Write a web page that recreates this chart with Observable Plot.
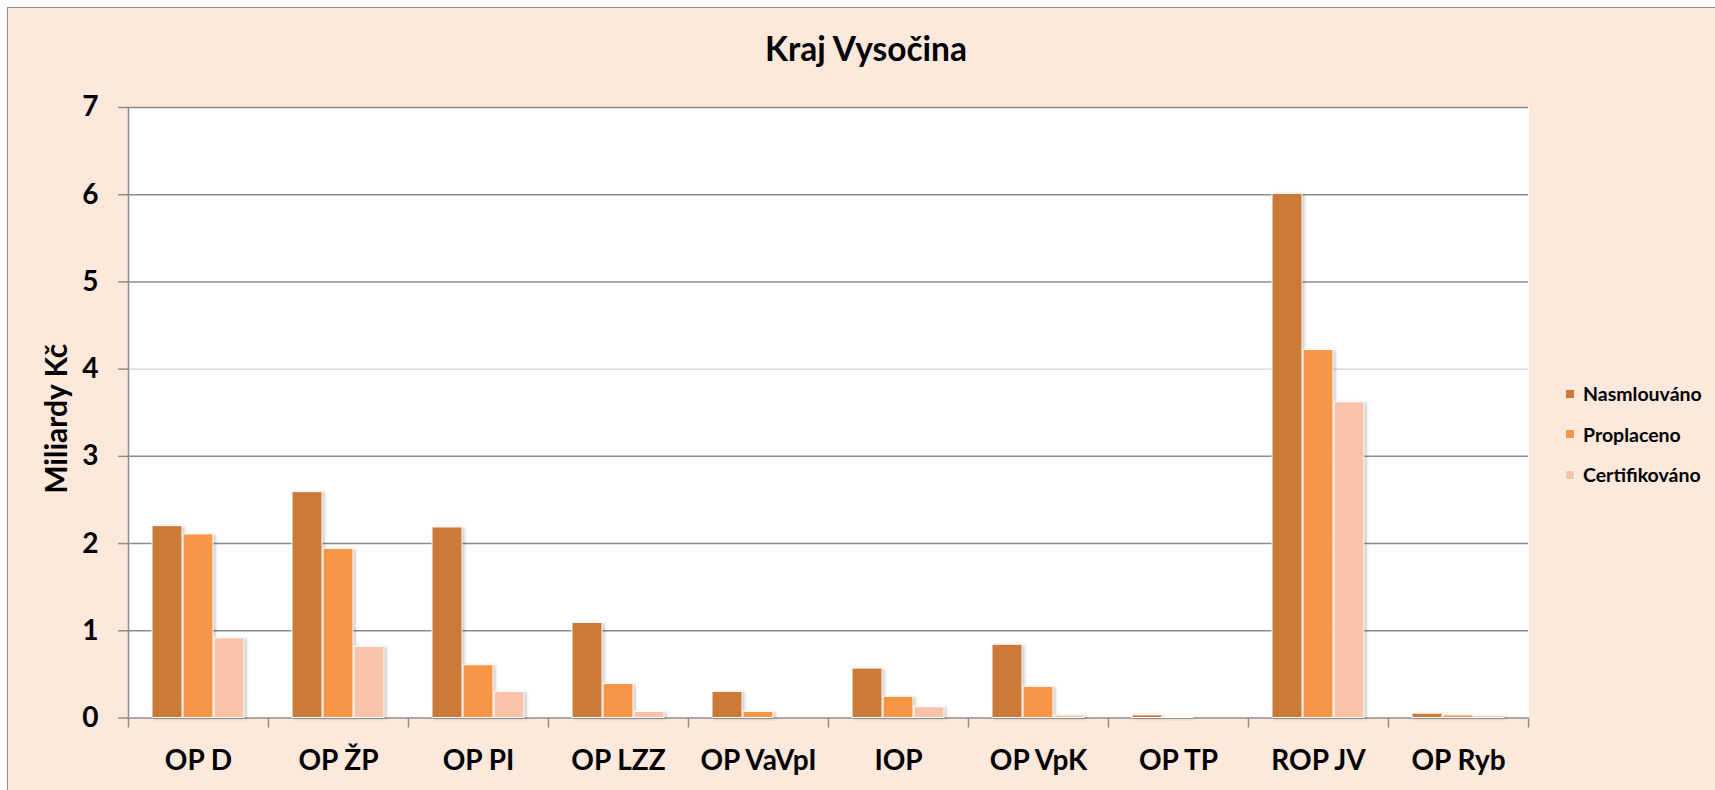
<!DOCTYPE html>
<html>
<head>
<meta charset="utf-8">
<script src="https://cdn.jsdelivr.net/npm/d3@7"></script>
<script src="https://cdn.jsdelivr.net/npm/@observablehq/plot@0.6"></script>
<style>
  html, body { margin: 0; padding: 0; background: #ffffff; width: 1715px; height: 790px; overflow: hidden; }
  #frame { position: absolute; left: 7px; top: 7px; width: 1760px; height: 840px; background: #FCE9DC;
           border-left: 1.5px solid #8c8c8c; border-top: 1.5px solid #8c8c8c; }
  #wrap { position: absolute; left: 0; top: 0; width: 1715px; height: 790px; font-family: Lato, "Open Sans", sans-serif; }
  #title { position: absolute; left: 7px; width: 1718px; top: 28px; text-align: center; font-size: 33.5px;
           font-weight: bold; line-height: 1.2; color: #000; }
  #chart { position: absolute; left: 0; top: 95px; }
  #legend { position: absolute; left: 1565px; top: 373.5px; font-weight: bold; font-size: 19.5px; color: #000; }
  .item { display: flex; align-items: center; height: 40.5px; }
  .sw { width: 10px; height: 10px; margin-right: 8px; box-sizing: border-box; border: 0.5px solid rgba(255,255,255,0.8); }
  g[aria-label="bar"] rect { filter: drop-shadow(2px 1px 1.5px rgba(0,0,0,0.22)); }
</style>
</head>
<body>
<div id="frame"></div>
<div id="wrap">
  <div id="title">Kraj Vysočina</div>
  <div id="chart"></div>
  <div id="legend"></div>
</div>
<script>
// ---- data ----
const categories = ["OP D", "OP ŽP", "OP PI", "OP LZZ", "OP VaVpI", "IOP", "OP VpK", "OP TP", "ROP JV", "OP Ryb"];
const series = ["Nasmlouváno", "Proplaceno", "Certifikováno"];
const nasmlouvano   = [2.20, 2.59, 2.185, 1.09, 0.30, 0.567, 0.84, 0.03, 6.01, 0.05];
const proplaceno    = [2.105, 1.94, 0.605, 0.39, 0.07, 0.243, 0.357, 0.005, 4.22, 0.03];
const certifikovano = [0.914, 0.816, 0.30, 0.07, 0, 0.124, 0.03, 0, 3.62, 0.025];
const yTicks = [0, 1, 2, 3, 4, 5, 6, 7];
const colors = ["#CC7A38", "#F79646", "#F9C3A9"];
const title = "Kraj Vysočina";
const yLabel = "Miliardy Kč";

// ---- table ----
const valuesBySeries = [nasmlouvano, proplaceno, certifikovano];
const data = categories.flatMap((c, i) => series.map((s, j) => ({category: c, series: s, value: valuesBySeries[j][i]})));

// ---- layout ----
const W = 1715, H = 695, ML = 127, MR = 187, MT = 12, MB = 72.5;
const PI = 0.03, PO = 0.773;
const facetW = (W - ML - MR) / categories.length;
const step = facetW / (series.length - PI + 2 * PO);
const bw = step * (1 - PI);
const start0 = (facetW - step * (series.length - PI)) / 2;
const leftDx = -(start0 + bw / 2);
const rightDx = facetW + leftDx;
const gridColor = "#8c8c8c";

document.getElementById("title").textContent = title;

const chart = Plot.plot({
  width: W, height: H,
  marginLeft: ML, marginRight: MR, marginTop: MT, marginBottom: MB,
  style: {background: "transparent", fontFamily: "Lato, 'Open Sans', sans-serif", fontWeight: "bold", color: "#000", overflow: "visible"},
  fx: {domain: categories, padding: 0, axis: null, label: null},
  x: {domain: series, paddingInner: PI, paddingOuter: PO, axis: null},
  y: {domain: [0, 7], axis: null},
  color: {domain: series, range: colors},
  marks: [
    Plot.frame({fill: "white", stroke: "white", strokeWidth: 1}),
    Plot.gridY(yTicks.filter(d => d !== 4), {stroke: gridColor, strokeOpacity: 1, strokeWidth: 1.5}),
    Plot.gridY(yTicks.filter(d => d === 4), {stroke: "#d2d2d2", strokeOpacity: 1, strokeWidth: 1.2}),
    Plot.barY(data, {fx: "category", x: "series", y: "value", fill: "series", stroke: "white", strokeWidth: 1}),
    // y axis line (first facet)
    Plot.ruleX([categories[0]], {fx: d => d, x: () => series[0], y1: 0, y2: 7, dx: leftDx, stroke: gridColor, strokeWidth: 1.5}),
    // category boundary ticks
    Plot.ruleX(categories, {fx: d => d, x: () => series[0], y1: 0, y2: 0, insetBottom: -10, dx: leftDx, stroke: gridColor, strokeWidth: 1.5}),
    Plot.ruleX([categories[categories.length - 1]], {fx: d => d, x: () => series[0], y1: 0, y2: 0, insetBottom: -10, dx: rightDx, stroke: gridColor, strokeWidth: 1.5}),
    Plot.axisY(yTicks, {tickSize: 10, tickPadding: 20, fontSize: 28, stroke: gridColor, strokeWidth: 1.5, fill: "#000", tickFormat: d3.format("d"), label: null}),
    Plot.axisFx({anchor: "bottom", tickSize: 0, tickPadding: 32.5, fontSize: 28, fill: "#000", label: null}),
    Plot.text([yLabel], {fx: () => categories[0], frameAnchor: "left", textAnchor: "middle", rotate: -90, dx: -71, dy: 6, fontSize: 30, fontWeight: "bold", fill: "#000"})
  ]
});
document.getElementById("chart").appendChild(chart);

// ---- legend ----
const legend = document.getElementById("legend");
series.forEach((s, i) => {
  const item = document.createElement("div");
  item.className = "item";
  const sw = document.createElement("span");
  sw.className = "sw";
  sw.style.background = colors[i];
  const t = document.createElement("span");
  t.textContent = s;
  item.appendChild(sw);
  item.appendChild(t);
  legend.appendChild(item);
});
</script>
</body>
</html>
